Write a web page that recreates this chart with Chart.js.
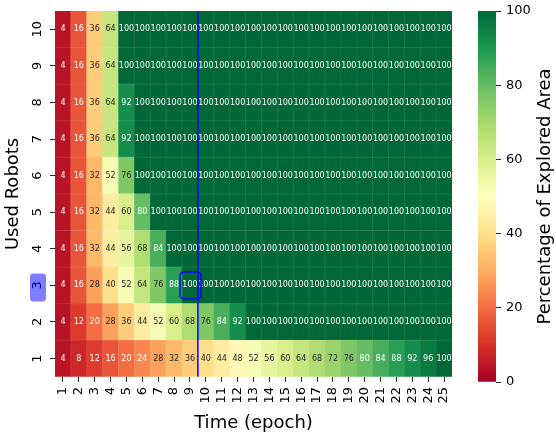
<!DOCTYPE html>
<html lang="en">
<head>
<meta charset="UTF-8">
<title>Percentage of Explored Area</title>
<script src="https://cdn.jsdelivr.net/npm/chart.js"></script>
<style>
  html, body { margin: 0; padding: 0; background: #fff; }
  #wrap { position: relative; width: 556px; height: 438px; }
  #heat { position: absolute; left: 0; top: 0; }
  #cbar { position: absolute; left: 465px; top: 0; }
</style>
</head>
<body>
<div id="wrap">
  <canvas id="heat" width="465" height="438"></canvas>
  <canvas id="cbar" width="91" height="438"></canvas>
</div>

<script>
// data
const epochs = ['1','2','3','4','5','6','7','8','9','10','11','12','13','14','15','16','17','18','19','20','21','22','23','24','25'];
const robots = [1, 2, 3, 4, 5, 6, 7, 8, 9, 10];

const robots1  = [4, 8, 12, 16, 20, 24, 28, 32, 36, 40, 44, 48, 52, 56, 60, 64, 68, 72, 76, 80, 84, 88, 92, 96, 100];
const robots2  = [4, 12, 20, 28, 36, 44, 52, 60, 68, 76, 84, 92, 100, 100, 100, 100, 100, 100, 100, 100, 100, 100, 100, 100, 100];
const robots3  = [4, 16, 28, 40, 52, 64, 76, 88, 100, 100, 100, 100, 100, 100, 100, 100, 100, 100, 100, 100, 100, 100, 100, 100, 100];
const robots4  = [4, 16, 32, 44, 56, 68, 84, 100, 100, 100, 100, 100, 100, 100, 100, 100, 100, 100, 100, 100, 100, 100, 100, 100, 100];
const robots5  = [4, 16, 32, 44, 60, 80, 100, 100, 100, 100, 100, 100, 100, 100, 100, 100, 100, 100, 100, 100, 100, 100, 100, 100, 100];
const robots6  = [4, 16, 32, 52, 76, 100, 100, 100, 100, 100, 100, 100, 100, 100, 100, 100, 100, 100, 100, 100, 100, 100, 100, 100, 100];
const robots7  = [4, 16, 36, 64, 92, 100, 100, 100, 100, 100, 100, 100, 100, 100, 100, 100, 100, 100, 100, 100, 100, 100, 100, 100, 100];
const robots8  = [4, 16, 36, 64, 92, 100, 100, 100, 100, 100, 100, 100, 100, 100, 100, 100, 100, 100, 100, 100, 100, 100, 100, 100, 100];
const robots9  = [4, 16, 36, 64, 100, 100, 100, 100, 100, 100, 100, 100, 100, 100, 100, 100, 100, 100, 100, 100, 100, 100, 100, 100, 100];
const robots10 = [4, 16, 36, 64, 100, 100, 100, 100, 100, 100, 100, 100, 100, 100, 100, 100, 100, 100, 100, 100, 100, 100, 100, 100, 100];
const rows = [robots1, robots2, robots3, robots4, robots5, robots6, robots7, robots8, robots9, robots10];

const colorbarTicks = [0, 20, 40, 60, 80, 100];

// highlighted cell
const markRobot = 3;
const markEpoch = '9';

const FONT = 'DejaVu Sans';

// RdYlGn
const stops = [
  [165, 0, 38], [215, 48, 39], [244, 109, 67], [253, 174, 97], [254, 224, 139],
  [255, 255, 191], [217, 239, 139], [166, 217, 106], [102, 189, 99], [26, 152, 80], [0, 104, 55]
];
function cmapRGB(t) {
  t = Math.max(0, Math.min(1, t));
  const p = t * (stops.length - 1);
  const i = Math.min(Math.floor(p), stops.length - 2);
  const f = p - i;
  return stops[i].map((c, k) => Math.round(c + (stops[i + 1][k] - c) * f));
}
function cmap(t) {
  return 'rgb(' + cmapRGB(t).join(',') + ')';
}
function textColorFor(t) {
  const lin = cmapRGB(t).map(c => {
    c /= 255;
    return c <= 0.03928 ? c / 12.92 : Math.pow((c + 0.055) / 1.055, 2.4);
  });
  const lum = 0.2126 * lin[0] + 0.7152 * lin[1] + 0.0722 * lin[2];
  return lum > 0.408 ? '#262626' : '#ffffff';
}

function roundRect(ctx, x, y, w, h, r) {
  ctx.beginPath();
  ctx.moveTo(x + r, y);
  ctx.lineTo(x + w - r, y);
  ctx.arcTo(x + w, y, x + w, y + r, r);
  ctx.lineTo(x + w, y + h - r);
  ctx.arcTo(x + w, y + h, x + w - r, y + h, r);
  ctx.lineTo(x + r, y + h);
  ctx.arcTo(x, y + h, x, y + h - r, r);
  ctx.lineTo(x, y + r);
  ctx.arcTo(x, y, x + r, y, r);
  ctx.closePath();
}

// cell lines, annotations, y labels and the blue markers
const heatExtras = {
  id: 'heatExtras',
  afterDatasetsDraw(chart) {
    const {ctx, chartArea: a, scales: {x, y}} = chart;
    ctx.save();
    // thin cell lines
    ctx.strokeStyle = 'rgba(255,255,255,0.16)';
    ctx.lineWidth = 0.6;
    ctx.beginPath();
    for (let i = 1; i < epochs.length; i++) {
      const px = x.getPixelForValue(i - 0.5);
      ctx.moveTo(px, a.top); ctx.lineTo(px, a.bottom);
    }
    for (let r = 1; r < robots.length; r++) {
      const py = y.getPixelForValue(r);
      ctx.moveTo(a.left, py); ctx.lineTo(a.right, py);
    }
    ctx.stroke();

    // annotations
    ctx.font = '8px ' + FONT;
    ctx.textAlign = 'center';
    ctx.textBaseline = 'middle';
    chart.data.datasets.forEach((ds, di) => {
      chart.getDatasetMeta(di).data.forEach((el, i) => {
        const v = ds.values[i];
        ctx.fillStyle = textColorFor(v / 100);
        ctx.fillText(String(v), el.x, (el.y + el.base) / 2);
      });
    });

    // blue vertical line after the highlighted epoch
    const mi = epochs.indexOf(markEpoch);
    const lx = x.getPixelForValue(mi + 0.5);
    ctx.strokeStyle = '#0000ff';
    ctx.lineWidth = 1.5;
    ctx.beginPath();
    ctx.moveTo(lx, a.top); ctx.lineTo(lx, a.bottom);
    ctx.stroke();

    // rounded box on the highlighted cell
    const cx = x.getPixelForValue(mi);
    const cy = y.getPixelForValue(markRobot - 0.5);
    roundRect(ctx, cx - 10, cy - 13.5, 21, 27, 4);
    ctx.stroke();
    ctx.restore();
  },
  afterDraw(chart) {
    const {ctx, scales: {y}} = chart;
    ctx.save();
    ctx.font = '13px ' + FONT;
    ctx.textAlign = 'center';
    ctx.textBaseline = 'middle';
    const lx = y.right - 5 - 5 - 7;
    robots.forEach(r => {
      const py = y.getPixelForValue(r - 0.5);
      if (r === markRobot) {
        ctx.fillStyle = 'rgba(118,118,255,0.95)';
        roundRect(ctx, lx - 8, py - 12, 16, 28, 3.5);
        ctx.fill();
        ctx.fillStyle = '#00008b';
      } else {
        ctx.fillStyle = '#000';
      }
      ctx.save();
      ctx.translate(lx, py);
      ctx.rotate(-Math.PI / 2);
      ctx.fillText(String(r), 0, 0);
      ctx.restore();
    });
    ctx.restore();
  }
};

new Chart(document.getElementById('heat'), {
  type: 'bar',
  data: {
    labels: epochs,
    datasets: robots.map((r, i) => ({
      data: rows[i].map(() => [r - 1, r]),
      values: rows[i],
      backgroundColor: rows[i].map(v => cmap(v / 100)),
      borderWidth: 0,
      barPercentage: 1,
      categoryPercentage: 1,
      grouped: false
    }))
  },
  options: {
    responsive: false,
    devicePixelRatio: 1,
    animation: false,
    layout: { padding: { left: 0, top: 11, right: 13, bottom: 0 } },
    plugins: { legend: { display: false }, tooltip: { enabled: false } },
    scales: {
      x: {
        type: 'category',
        offset: true,
        border: { display: false },
        grid: { drawOnChartArea: false, offset: false, tickLength: 5, color: '#262626', lineWidth: 1 },
        ticks: { font: { family: FONT, size: 13 }, color: '#000', minRotation: 90, maxRotation: 90, padding: 5, autoSkip: false },
        title: { display: true, text: 'Time (epoch)', font: { family: FONT, size: 18 }, color: '#000', padding: { top: 4, bottom: 4 } }
      },
      y: {
        type: 'linear',
        min: 0,
        max: robots.length,
        border: { display: false },
        afterBuildTicks(scale) { scale.ticks = robots.map(r => ({ value: r - 0.5 })); },
        grid: { drawOnChartArea: false, tickLength: 5, color: '#262626', lineWidth: 1 },
        ticks: { display: false },
        title: { display: true, text: 'Used Robots', font: { family: FONT, size: 18 }, color: '#000', padding: { top: 3, bottom: 25.4 } }
      }
    }
  },
  plugins: [heatExtras]
});

// colour bar: tick labels and title drawn next to the scale
const cbarText = {
  id: 'cbarText',
  afterDraw(chart) {
    const {ctx, chartArea: a, scales: {y}} = chart;
    ctx.save();
    ctx.fillStyle = '#000';
    ctx.font = '13px ' + FONT;
    ctx.textAlign = 'left';
    ctx.textBaseline = 'middle';
    colorbarTicks.forEach(v => ctx.fillText(String(v), y.right + 5, y.getPixelForValue(v)));
    ctx.font = '18px ' + FONT;
    ctx.textAlign = 'center';
    ctx.translate(80, (a.top + a.bottom) / 2);
    ctx.rotate(-Math.PI / 2);
    ctx.fillText('Percentage of Explored Area', 0, 0);
    ctx.restore();
  }
};

new Chart(document.getElementById('cbar'), {
  type: 'bar',
  data: {
    labels: [''],
    datasets: [{
      data: [[colorbarTicks[0], colorbarTicks[colorbarTicks.length - 1]]],
      backgroundColor(c) {
        const chart = c.chart;
        if (!chart.chartArea) return null;
        const y = chart.scales.y;
        const g = chart.ctx.createLinearGradient(0, y.getPixelForValue(0), 0, y.getPixelForValue(100));
        stops.forEach((s, i) => g.addColorStop(i / (stops.length - 1), 'rgb(' + s.join(',') + ')'));
        return g;
      },
      borderWidth: 0,
      barPercentage: 1,
      categoryPercentage: 1
    }]
  },
  options: {
    responsive: false,
    devicePixelRatio: 1,
    animation: false,
    layout: { padding: { left: 13, top: 11, right: 55, bottom: 56 } },
    plugins: { legend: { display: false }, tooltip: { enabled: false } },
    scales: {
      x: { display: false },
      y: {
        position: 'right',
        min: 0,
        max: 100,
        border: { display: false },
        afterBuildTicks(scale) { scale.ticks = colorbarTicks.map(v => ({ value: v })); },
        grid: { drawOnChartArea: false, tickLength: 5, color: '#262626', lineWidth: 1 },
        ticks: { display: false }
      }
    }
  },
  plugins: [cbarText]
});
</script>
</body>
</html>
